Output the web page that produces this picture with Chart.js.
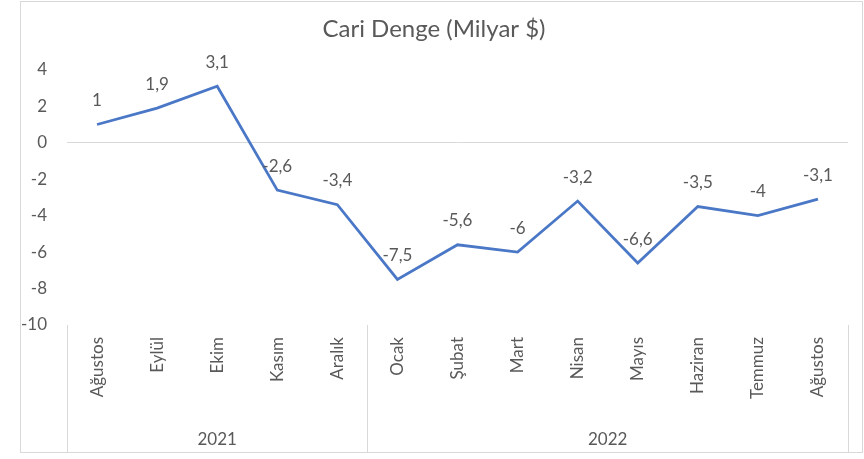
<!DOCTYPE html>
<html>
<head>
<meta charset="utf-8">
<script src="https://cdn.jsdelivr.net/npm/chart.js@4/dist/chart.umd.min.js"></script>
<style>
  html, body { margin: 0; padding: 0; background: #fff; }
  #wrap { width: 864px; height: 459px; }
</style>
</head>
<body>
<div id="wrap"><canvas id="cari" width="864" height="459"></canvas></div>
<script>
// ---- data ----
const months = ['Ağustos', 'Eylül', 'Ekim', 'Kasım', 'Aralık', 'Ocak', 'Şubat', 'Mart', 'Nisan', 'Mayıs', 'Haziran', 'Temmuz', 'Ağustos'];
const years = ['2021', '2022'];
const yearSpans = [5, 8];   // how many months fall under each year
const balance = [1, 1.9, 3.1, -2.6, -3.4, -7.5, -5.6, -6, -3.2, -6.6, -3.5, -4, -3.1];
const yTicks = [-10, -8, -6, -4, -2, 0, 2, 4];

const FONT = 'Lato, "Open Sans", sans-serif';
const GREY = '#595959';
const RULE = '#d9d9d9';

const fmt = v => String(v).replace('.', ',');

// value labels above each point
const pointLabels = {
    id: 'pointLabels',
    afterDatasetsDraw(chart) {
        const { ctx } = chart;
        const meta = chart.getDatasetMeta(0);
        ctx.save();
        ctx.font = '17px ' + FONT;
        ctx.fillStyle = GREY;
        ctx.textAlign = 'center';
        ctx.textBaseline = 'middle';
        meta.data.forEach((pt, i) => {
            ctx.fillText(fmt(balance[i]), pt.x, pt.y - 24);
        });
        ctx.restore();
    }
};

// two-level category axis + outer frame
const yearAxis = {
    id: 'yearAxis',
    afterDraw(chart) {
        const { ctx, chartArea } = chart;
        const x = chart.scales.x;
        const half = (x.getPixelForValue(1) - x.getPixelForValue(0)) / 2;
        const bottom = 452;
        ctx.save();
        ctx.strokeStyle = RULE;
        ctx.lineWidth = 1;

        // outer frame
        ctx.strokeRect(20.5, 1.5, 842, 451);

        let start = 0;
        const edges = [x.getPixelForValue(0) - half];
        years.forEach((yr, k) => {
            const end = start + yearSpans[k] - 1;
            edges.push(x.getPixelForValue(end) + half);
            const mid = (x.getPixelForValue(start) + x.getPixelForValue(end)) / 2;
            ctx.font = '17px ' + FONT;
            ctx.fillStyle = GREY;
            ctx.textAlign = 'center';
            ctx.textBaseline = 'middle';
            ctx.fillText(yr, mid, 440);
            start = end + 1;
        });
        edges.forEach(e => {
            const px = Math.round(e) + 0.5;
            ctx.beginPath();
            ctx.moveTo(px, chartArea.bottom);
            ctx.lineTo(px, bottom);
            ctx.stroke();
        });
        ctx.restore();
    }
};

new Chart(document.getElementById('cari'), {
    type: 'line',
    data: {
        labels: months,
        datasets: [{
            label: 'Cari Denge',
            data: balance,
            borderColor: '#4a78c6',
            borderWidth: 2.8,
            pointRadius: 0,
            tension: 0,
        }],
    },
    options: {
        responsive: false,
        animation: false,
        layout: { padding: { left: 20, right: 16, top: 0, bottom: 6 } },
        plugins: {
            legend: { display: false },
            tooltip: { enabled: false },
            title: {
                display: true,
                text: 'Cari Denge (Milyar $)',
                color: GREY,
                font: { family: FONT, size: 24, weight: 'normal' },
                padding: { top: 15, bottom: 26 },
            },
        },
        scales: {
            x: {
                offset: true,
                grid: { display: false, drawTicks: false },
                border: { display: false },
                ticks: {
                    color: GREY,
                    font: { family: FONT, size: 17 },
                    minRotation: 90,
                    maxRotation: 90,
                    padding: 12,
                    autoSkip: false,
                },
                afterFit: s => { s.height = 128; },
            },
            y: {
                min: -10,
                max: 4,
                afterBuildTicks: s => { s.ticks = yTicks.map(v => ({ value: v })); },
                grid: {
                    drawTicks: false,
                    color: c => (c.tick && c.tick.value === 0 ? RULE : 'rgba(0,0,0,0)'),
                },
                border: { display: false },
                ticks: {
                    color: GREY,
                    font: { family: FONT, size: 17 },
                    padding: 20,
                },
                afterFit: s => { s.width = 47; },
            },
        },
    },
    plugins: [pointLabels, yearAxis],
});
</script>
</body>
</html>
